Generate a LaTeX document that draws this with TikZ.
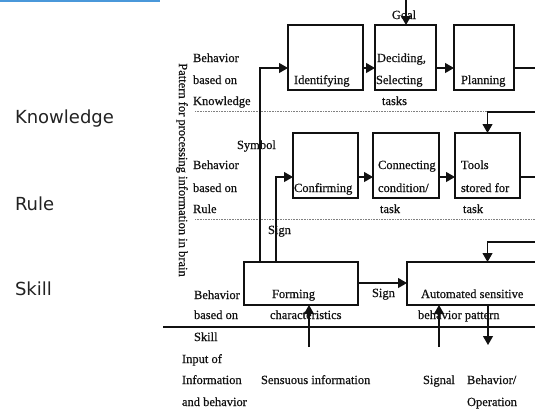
\documentclass[tikz,border=0pt]{standalone}
\usepackage{fontspec}
\setmainfont{Liberation Serif}[FakeBold=0.6]
\newfontfamily\lblfont{DejaVu Sans}
\usetikzlibrary{arrows.meta}
\definecolor{topblue}{HTML}{4A98DA}
\definecolor{lblgray}{HTML}{222222}
\definecolor{ink}{HTML}{111111}
\tikzset{
  box/.style={draw=ink, line width=1.1pt, inner sep=0pt, outer sep=0pt, anchor=north west},
  conn/.style={draw=ink, line width=1.1pt},
  arr/.style={draw=ink, line width=1.1pt, -{Triangle[length=9pt,width=10pt]}},
  txt/.style={inner sep=0pt, outer sep=0pt, anchor=base west, text=ink, font=\fontsize{12.5}{14}\selectfont},
  lbl/.style={inner sep=0pt, outer sep=0pt, anchor=base west, text=lblgray, font=\lblfont\fontsize{18}{20}\selectfont},
  dotline/.style={gray, line width=0.6pt, dash pattern=on 0.8pt off 0.8pt},
}
\begin{document}
\begin{tikzpicture}[x=1pt, y=-1pt]
\useasboundingbox (0,0) rectangle (535,410);
\clip (0,0) rectangle (535,410);
\fill[topblue] (0,0) rectangle (160,1.6);

% side labels
\node[lbl] (lk) at (15,123) {Knowledge};
\node[lbl] (lr) at (15,210) {Rule};
\node[lbl] (ls) at (15,295) {Skill};

% vertical title
\node[inner sep=0pt, rotate=-90, text=ink, font=\fontsize{12.5}{14}\selectfont] (vt) at (182,170) {Pattern for processing information in brain};

% separators
\draw[dotline] (195,111) -- (535,111);
\draw[dotline] (195,219) -- (535,219);
\draw[conn] (163,327) -- (535,327);

% boxes
\node[box, minimum width=75pt, minimum height=65pt] (ident) at (288,25) {};
\node[box, minimum width=61pt, minimum height=65pt] (decide) at (375,25) {};
\node[box, minimum width=60pt, minimum height=65pt] (plan) at (454,25) {};
\node[box, minimum width=65pt, minimum height=65pt] (confirm) at (293,133) {};
\node[box, minimum width=66pt, minimum height=65pt] (connect) at (373,133) {};
\node[box, minimum width=65pt, minimum height=65pt] (tools) at (455,133) {};
\node[box, minimum width=114pt, minimum height=43pt] (forming) at (244,262) {};
\node[box, minimum width=160pt, minimum height=43pt] (auto) at (407,262) {};

% helper coordinates
\coordinate (kr) at (0,68);
\coordinate (rr) at (0,177);
\coordinate (sr) at (0,283);
\coordinate (v1) at (260,0);
\coordinate (v2) at (276,0);
\coordinate (goaltop) at (406,0);
\coordinate (kout) at (535,68);
\coordinate (kin) at (535,112);
\coordinate (rout) at (535,177);
\coordinate (sin) at (535,242);
\coordinate (sens) at (309,347);
\coordinate (sig) at (439,347);
\coordinate (bx) at (488,345);

% knowledge row texts
\node[txt] (t1) at (193,62) {Behavior};
\node[txt] (t2) at (193,84) {based on};
\node[txt] (t3) at (193,105) {Knowledge};
\node[txt, anchor=base] (goal) at (404,19) {Goal};
\node[txt] (t4) at (294,84) {Identifying};
\node[txt] (t5) at (377,62) {Deciding,};
\node[txt] (t6) at (376,84) {Selecting};
\node[txt] (t7) at (382,105) {tasks};
\node[txt] (t8) at (461,84) {Planning};

% rule row texts
\node[txt] (t9) at (237,149) {Symbol};
\node[txt] (t10) at (193,169) {Behavior};
\node[txt] (t11) at (193,192) {based on};
\node[txt] (t12) at (193,213) {Rule};
\node[txt] (t13) at (294,192) {Confirming};
\node[txt] (t14) at (378,169) {Connecting};
\node[txt] (t15) at (378,192) {condition/};
\node[txt] (t16) at (380,213) {task};
\node[txt] (t17) at (461,169) {Tools};
\node[txt] (t18) at (461,192) {stored for};
\node[txt] (t19) at (463,213) {task};
\node[txt] (t20) at (268,234) {Sign};

% skill row texts
\node[txt] (t21) at (194,299) {Behavior};
\node[txt] (t22) at (194,319) {based on};
\node[txt] (t23) at (194,341) {Skill};
\node[txt] (t24) at (272,298) {Forming};
\node[txt] (t25) at (270,319) {characteristics};
\node[txt] (t26) at (372,297) {Sign};
\node[txt] (t27) at (421,298) {Automated sensitive};
\node[txt] (t28) at (418,319) {behavior pattern};

% bottom texts
\node[txt] (t29) at (182,363) {Input of};
\node[txt] (t30) at (182,384) {Information};
\node[txt] (t31) at (182,406) {and behavior};
\node[txt] (t32) at (261,384) {Sensuous information};
\node[txt] (t33) at (423,384) {Signal};
\node[txt] (t34) at (467,384) {Behavior/};
\node[txt] (t35) at (467,406) {Operation};

% connectors
\draw[arr] (goaltop) -- (decide.north -| goaltop);
\draw[arr] (forming.north -| v1) |- (ident.west |- kr);
\draw[arr] (ident.east |- kr) -- (decide.west |- kr);
\draw[arr] (decide.east |- kr) -- (plan.west |- kr);
\draw[conn] (plan.east |- kr) -- (kout);
\draw[arr] (kin) -| (tools.north);
\draw[arr] (forming.north -| v2) |- (confirm.west |- rr);
\draw[arr] (confirm.east |- rr) -- (connect.west |- rr);
\draw[arr] (connect.east |- rr) -- (tools.west |- rr);
\draw[conn] (tools.east |- rr) -- (rout);
\draw[arr] (sin) -| (auto.north -| tools.north);
\draw[arr] (forming.east |- sr) -- (auto.west |- sr);
\draw[arr] (sens) -- (forming.south -| sens);
\draw[arr] (sig) -- (auto.south -| sig);
\draw[arr] (auto.south -| bx) -- (bx);
\end{tikzpicture}
\end{document}
